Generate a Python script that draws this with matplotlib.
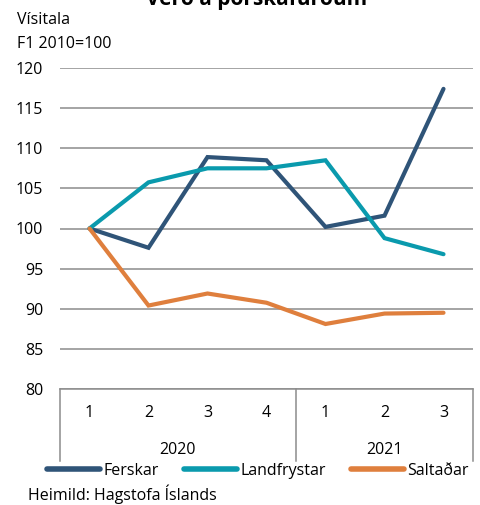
import numpy as np
import matplotlib.pyplot as plt
from matplotlib.lines import Line2D

plt.rcParams['font.family'] = ['Open Sans', 'DejaVu Sans']

quarters = ["1", "2", "3", "4", "1", "2", "3"]
years = ["2020", "2021"]
year_spans = [(0, 4), (4, 7)]
ferskar = [100, 97.6, 108.9, 108.5, 100.2, 101.6, 117.4]
landfrystar = [100, 105.75, 107.5, 107.5, 108.5, 98.8, 96.8]
saltadar = [100, 90.4, 91.9, 90.75, 88.1, 89.4, 89.5]

series = [("Ferskar", ferskar, "#2F5478"),
          ("Landfrystar", landfrystar, "#0A9AAD"),
          ("Saltaðar", saltadar, "#DF7F3D")]

W, H = 480, 505
FS = 11.5
fig = plt.figure(figsize=(W / 100, H / 100), dpi=100)
ax = fig.add_axes([60 / W, 1 - 389 / H, 413 / W, 321 / H])

x = np.arange(len(quarters)) + 0.5
for name, vals, col in series:
    ax.plot(x, vals, color=col, lw=3.0, solid_capstyle='round',
            solid_joinstyle='miter', label=name, zorder=3)

ax.set_xlim(0, 7)
ax.set_ylim(80, 120)
ax.set_yticks(np.arange(80, 121, 5))
ax.yaxis.grid(True, color="#8c8c8c", lw=1.1)
ax.set_axisbelow(True)
for s in ax.spines.values():
    s.set_visible(False)
ax.tick_params(axis='y', length=0, labelsize=FS, pad=12)
ax.set_xticks([])

# category axis drawn under the plot
tr = ax.get_xaxis_transform()
ax.plot([0, 7], [0, 0], color="#8c8c8c", lw=1.1, transform=tr, clip_on=False)
for b in [0, 4, 7]:
    ax.plot([b, b], [0, -72 / 321], color="#8c8c8c", lw=1.1,
            transform=tr, clip_on=False)
for xi, q in zip(x, quarters):
    ax.text(xi, -24 / 321, q, transform=tr, ha='center', va='center',
            fontsize=FS)
for yr, (a, b) in zip(years, year_spans):
    ax.text((a + b) / 2, -61 / 321, yr, transform=tr, ha='center',
            va='center', fontsize=FS)

fig.text(257 / W, 1 + 1 / H, "Verð á þorskafurðum", ha='center',
         va='center', fontsize=15, fontweight='bold')
fig.text(17 / W, 1 - 20 / H, "Vísitala", ha='left', va='center', fontsize=FS)
fig.text(17 / W, 1 - 44 / H, "F1 2010=100", ha='left', va='center',
         fontsize=FS)
fig.text(28 / W, 1 - 494 / H, "Heimild: Hagstofa Íslands", ha='left',
         va='center', fontsize=FS)

handles = [Line2D([0], [0], color=c, lw=4, solid_capstyle='round')
           for _, _, c in series]
fig.legend(handles, [n for n, _, _ in series], loc='center',
           bbox_to_anchor=(258 / W, 1 - 471 / H), ncol=3, frameon=False,
           handlelength=3.3, handletextpad=0.2, columnspacing=1.6,
           fontsize=FS, borderpad=0)

fig.savefig("out.png", dpi=100)
